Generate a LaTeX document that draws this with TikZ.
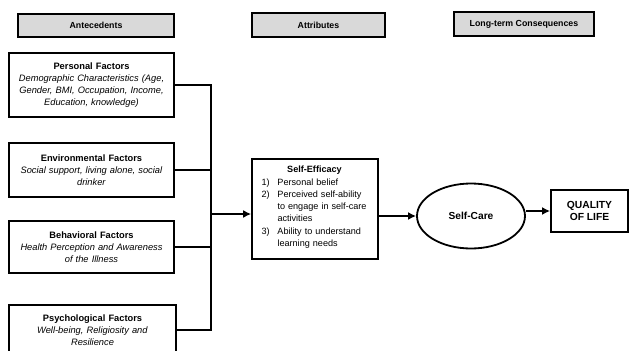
\documentclass[tikz,border=0pt]{standalone}
\usepackage{fontspec}
\setmainfont{Liberation Sans}
\usetikzlibrary{arrows.meta,shapes.geometric}
\tikzset{
  hdr/.style={draw=black, line width=1.8pt, fill=black!15, font=\fontsize{8.8}{10}\selectfont\bfseries, inner sep=0pt},
  factor/.style={draw=black, line width=1.7pt, align=center, inner sep=0pt, text width=158pt, font=\fontsize{9.3}{11.8}\selectfont},
  conn/.style={line width=1.8pt},
  arr/.style={line width=1.8pt, -{Latex[length=8pt,width=8pt]}}
}
\begin{document}
\begin{tikzpicture}[x=1pt,y=-1pt]
\useasboundingbox (0,0) rectangle (630,351);
\clip (0,0) rectangle (630,351);
% headers
\node[hdr, minimum width=156pt, minimum height=23pt] (h1) at (96,25.5) {Antecedents};
\node[hdr, minimum width=133pt, minimum height=24pt] (h2) at (318.5,25) {Attributes};
\node[hdr, minimum width=140pt, minimum height=24pt] (h3) at (524,24) {Long-term Consequences};
% factors
\node[factor, minimum width=165pt, minimum height=64pt] (pf) at (91.5,85)
 {\textbf{Personal Factors}\\ \textit{Demographic Characteristics (Age,}\\ \textit{Gender, BMI, Occupation, Income,}\\ \textit{Education, knowledge)}};
\node[factor, minimum width=165pt, minimum height=54pt] (ef) at (91.5,170)
 {\textbf{Environmental Factors}\\ \textit{Social support, living alone, social}\\ \textit{drinker}};
\node[factor, minimum width=165pt, minimum height=52pt] (bf) at (91.5,247)
 {\textbf{Behavioral Factors}\\ \textit{Health Perception and Awareness}\\ \textit{of the Illness}};
\node[factor, minimum width=167pt, minimum height=50pt] (psf) at (92.5,330)
 {\textbf{Psychological Factors}\\ \textit{Well-being, Religiosity and}\\ \textit{Resilience}};
% junction
\coordinate (jx) at (211,214);
\draw[conn] (pf.east) -- (pf.east -| jx) -- (psf.east -| jx) -- (psf.east);
\draw[conn] (ef.east) -- (ef.east -| jx);
\draw[conn] (bf.east) -- (bf.east -| jx);
% self-efficacy
\node[draw=black, line width=1.7pt, minimum width=126pt, minimum height=100pt, inner sep=0pt] (se) at (315,209) {};
\node[text width=106pt, inner sep=0pt, anchor=north, font=\fontsize{9.1}{12.3}\selectfont] (set) at (314.5,166) {%
\hyphenpenalty=10000\exhyphenpenalty=10000
\centering\textbf{Self-Efficacy}\par
\raggedright
\noindent\hangindent=16pt\hangafter=1\makebox[16pt][l]{1)}Personal belief\par
{\rightskip=0pt plus 0pt \parfillskip=0pt plus 1fil\noindent\hangindent=16pt\hangafter=1\makebox[16pt][l]{2)}Perceived self-ability to engage in self-care activities\par}
{\rightskip=0pt plus 0pt \parfillskip=0pt plus 1fil\noindent\hangindent=16pt\hangafter=1\makebox[16pt][l]{3)}Ability to understand learning needs\par}
};
\draw[arr] (jx) -- (jx -| se.west);
% self-care
\node[draw=black, line width=1.8pt, ellipse, minimum width=108pt, minimum height=65pt, inner sep=0pt, font=\fontsize{10.2}{12}\selectfont\bfseries] (sc) at (471,216) {Self-Care};
\draw[arr] (sc.west -| se.east) -- (sc.west);
% quality of life
\node[draw=black, line width=1.8pt, minimum width=77pt, minimum height=42pt, inner sep=0pt, align=center, font=\fontsize{10.3}{12.5}\selectfont\bfseries] (qol) at (589.5,211) {QUALITY\\OF LIFE};
\draw[arr] (qol.west -| sc.east) -- (qol.west);
\end{tikzpicture}
\end{document}
